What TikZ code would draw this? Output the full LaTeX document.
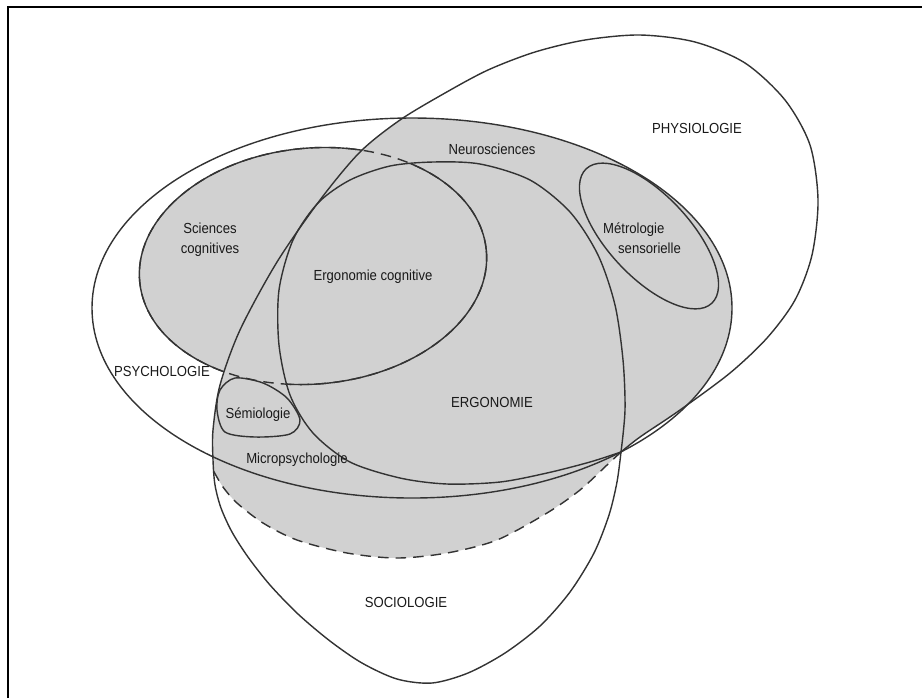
\documentclass[tikz,border=0pt]{standalone}
\usepackage{fontspec}
\setmainfont{Liberation Sans}[FakeStretch=0.9]
\definecolor{shadegray}{gray}{0.82}
\definecolor{inkgray}{gray}{0.2}
\tikzset{
  outline/.style={draw=inkgray, line width=0.8pt},
  hidden/.style={draw=inkgray, line width=0.8pt, dash pattern=on 6pt off 4pt},
  field/.style={font=\fontsize{8.3}{11.3}\selectfont, text=black!90, inner sep=0pt, align=center}
}
\begin{document}
\begin{tikzpicture}[x=0.02cm,y=-0.02cm]
  \useasboundingbox (0,0) rectangle (922,698);

  % Shaded fields: Neurosciences, Micropsychologie, Sciences cognitives
  \begin{scope}
    \clip (412,308) ellipse [x radius=320, y radius=190];
    \fill[shadegray] plot[smooth] coordinates {(621,452) (640,437) (680,410) (730,373) (767,338) (795,300) (812,255) (818,200) (810,145) (785,100) (745,63) (695,42) (640,35) (585,40) (535,52) (488,70) (445,93) (400,120) (360,152) (320,200) (277,262) (240,330) (220,385) (213,430) (213,460)}
      -- (213,560) -- (621,560) -- cycle;
  \end{scope}
  \fill[shadegray] plot[smooth] coordinates {(621,452) (607,465) (580,490) (547,513) (497,540) (447,553) (397,558) (347,553) (297,540) (263,523) (237,503) (223,487) (213,470)}
    -- (213,440) -- (621,440) -- cycle;
  \fill[shadegray, rotate around={5:(313,266)}] (313,266) ellipse [x radius=174, y radius=118];

  % Psychologie
  \draw[outline] (412,308) ellipse [x radius=320, y radius=190];

  % Physiologie and Sociologie
  \draw[outline] plot[smooth] coordinates {(621,452) (640,437) (680,410) (730,373) (767,338) (795,300) (812,255) (818,200) (810,145) (785,100) (745,63) (695,42) (640,35) (585,40) (535,52) (488,70) (445,93) (400,120) (360,152) (320,200) (277,262) (240,330) (220,385) (213,430) (213,460)
    (215,485) (221,508) (232,532) (248,557) (270,585) (298,614) (330,641) (362,663) (397,679) (432,683) (468,673) (505,653) (540,626) (570,592) (594,553) (609,515) (617,482) (621,452)};

  % Ergonomie
  \draw[outline] plot[smooth] coordinates {(621,452) (625,410) (623,360) (615,305) (598,255) (570,212) (530,180) (480,164) (433,162) (390,166) (350,180) (318,203) (293,240) (279,290) (279,345) (290,395) (313,433) (350,462) (400,478) (447,484) (500,482) (547,473) (590,462) (621,452)};

  % Micropsychologie limit
  \draw[hidden] plot[smooth] coordinates {(621,452) (607,465) (580,490) (547,513) (497,540) (447,553) (397,558) (347,553) (297,540) (263,523) (237,503) (223,487) (213,470)};

  % Sciences cognitives: dashed inside Neurosciences, solid elsewhere
  \draw[hidden, rotate around={5:(313,266)}] (313,266) ellipse [x radius=174, y radius=118];
  \begin{scope}[even odd rule]
    \clip (0,0) rectangle (922,698)
      plot[smooth] coordinates {(621,452) (640,437) (680,410) (730,373) (767,338) (795,300) (812,255) (818,200) (810,145) (785,100) (745,63) (695,42) (640,35) (585,40) (535,52) (488,70) (445,93) (400,120) (360,152) (320,200) (277,262) (240,330) (220,385) (213,430) (213,460)} -- cycle
      plot[smooth] coordinates {(621,452) (625,410) (623,360) (615,305) (598,255) (570,212) (530,180) (480,164) (433,162) (390,166) (350,180) (318,203) (293,240) (279,290) (279,345) (290,395) (313,433) (350,462) (400,478) (447,484) (500,482) (547,473) (590,462) (621,452)} -- cycle;
    \draw[outline, rotate around={5:(313,266)}] (313,266) ellipse [x radius=174, y radius=118];
  \end{scope}

  % Metrologie and Semiologie
  \draw[outline, rotate around={-47:(649,236)}] (649,236) ellipse [x radius=92, y radius=41];
  \draw[outline] plot[smooth cycle] coordinates {(220,390) (235,378) (263,383) (287,398) (300,420) (290,434) (255,437) (225,432) (217,410)};

  % Labels
  \node[field] (physio) at (697,128) {PHYSIOLOGIE};
  \node[field] (neuro) at (492,149) {Neurosciences};
  \node[field, align=left] (metro) at (642,238) {Métrologie\\\hspace*{0.3cm}sensorielle};
  \node[field] (scicog) at (210,240) {Sciences\\cognitives};
  \node[field] (ergocog) at (373,277) {Ergonomie cognitive};
  \node[field] (psycho) at (162,371) {PSYCHOLOGIE};
  \node[field] (semio) at (258,415) {Sémiologie};
  \node[field] (ergo) at (492,402) {ERGONOMIE};
  \node[field] (micro) at (297,460) {Micropsychologie};
  \node[field] (socio) at (406,602) {SOCIOLOGIE};

  % Frame
  \draw[line width=1.1pt] (8,698) -- (8,7) -- (922,7);
\end{tikzpicture}
\end{document}
